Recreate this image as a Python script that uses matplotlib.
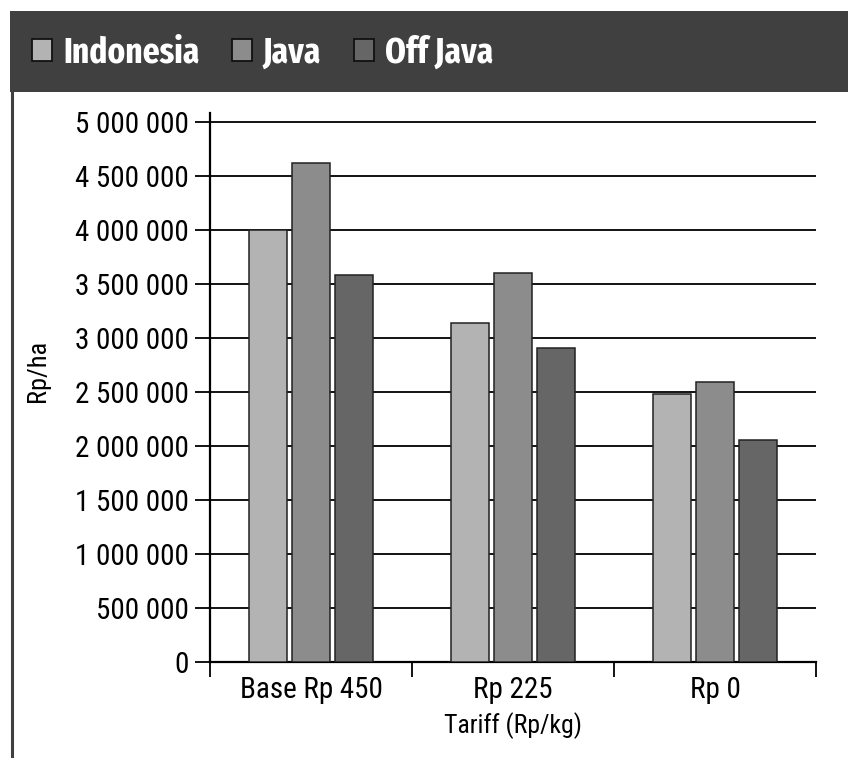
import matplotlib
matplotlib.use("Agg")
import matplotlib.pyplot as plt
from matplotlib.patches import Rectangle
from matplotlib.lines import Line2D
from matplotlib.ticker import FuncFormatter, FixedLocator

plt.rcParams['font.family'] = ['Roboto Condensed', 'Fira Sans Condensed', 'DejaVu Sans']

# revenue per hectare under each tariff scenario
tariffs = ["Base Rp 450", "Rp 225", "Rp 0"]
series = ["Indonesia", "Java", "Off Java"]
indonesia = [4000000, 3140000, 2480000]
java = [4618000, 3605000, 2595000]
off_java = [3580000, 2907000, 2053000]
colors = ["#b3b3b3", "#8c8c8c", "#666666"]
yticks = list(range(0, 5000001, 500000))

W, H = 848, 758
fig = plt.figure(figsize=(W / 100, H / 100), dpi=100)

# dark header band with the legend in it, plus the thin frame line down the left
fig.patches.append(Rectangle((10 / W, 1 - 92 / H), 1 - 10 / W, 81 / H,
                             transform=fig.transFigure, facecolor="#404040",
                             edgecolor="none", zorder=0))
fig.lines.append(Line2D([11.5 / W, 11.5 / W], [0, 1 - 92 / H], transform=fig.transFigure,
                        color="#404040", lw=2.2))

ax = fig.add_axes([210 / W, (H - 662) / H, (816 - 210) / W, (662 - 113) / H])
x = range(len(tariffs))
width = 0.19
step = 0.213
for i, (name, vals) in enumerate(zip(series, [indonesia, java, off_java])):
    ax.bar([p + (i - 1) * step for p in x], vals, width, color=colors[i],
           edgecolor="#222222", linewidth=1.1, zorder=3, label=name)

ax.set_xlim(-0.5, 2.5)
ax.set_ylim(0, 5000000 * (662 - 113) / 540)
ax.set_yticks(yticks)
ax.yaxis.set_major_formatter(FuncFormatter(lambda v, p: f"{int(v):,}".replace(",", " ")))
ax.yaxis.grid(True, color="black", linewidth=1.3, zorder=1)
ax.tick_params(axis="y", length=10.5, width=1.3, labelsize=21, pad=5)

ax.set_xticks(list(x))
ax.set_xticklabels(tariffs)
ax.xaxis.set_minor_locator(FixedLocator([-0.5, 0.5, 1.5, 2.5]))
ax.tick_params(axis="x", which="major", length=0, labelsize=21, pad=10)
ax.tick_params(axis="x", which="minor", length=11, width=1.3)

for s in ["top", "right"]:
    ax.spines[s].set_visible(False)
for s in ["left", "bottom"]:
    ax.spines[s].set_linewidth(1.6)

ax.set_ylabel("Rp/ha", fontsize=19)
ax.yaxis.set_label_coords((50 - 210) / 606, (662 - 371) / 549)
ax.set_xlabel("Tariff (Rp/kg)", fontsize=18.5, labelpad=6)

leg = fig.legend(loc="center left", bbox_to_anchor=(32 / W, 1 - 53 / H), ncol=3,
                 frameon=False, handlelength=0.56, handleheight=0.56,
                 handletextpad=0.3, columnspacing=0.9, borderpad=0, borderaxespad=0,
                 prop={"family": ["Fira Sans Extra Condensed", "Roboto Condensed", "DejaVu Sans"],
                       "size": 26, "weight": "bold"})
for t in leg.get_texts():
    t.set_color("white")
for h in leg.legend_handles:
    h.set_edgecolor("#111111")
    h.set_linewidth(1.3)

fig.savefig("out.png", dpi=100, facecolor="white")
